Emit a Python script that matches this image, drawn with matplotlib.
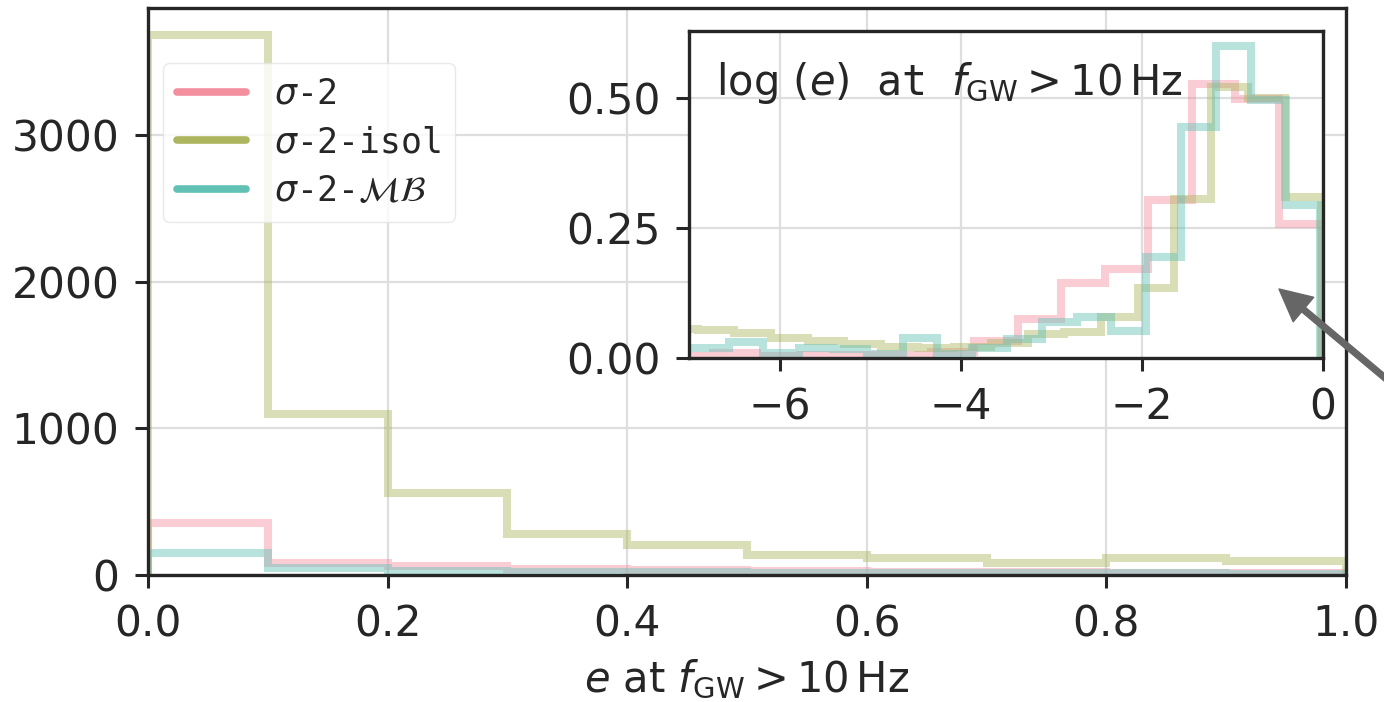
import matplotlib
matplotlib.use("Agg")
import matplotlib.pyplot as plt
from matplotlib.lines import Line2D

# ---------------- data ----------------
# main panel: counts of e at f_GW > 10 Hz
e_edges = [0.0, 0.1, 0.2, 0.3, 0.4, 0.5, 0.6, 0.7, 0.8, 0.9, 1.0]
counts_s2 = [354, 84, 61, 41, 34, 25, 20, 18, 15, 12]
counts_isol = [3680, 1100, 560, 279, 204, 134, 116, 82, 116, 95]
counts_mb = [150, 45, 30, 22, 18, 15, 14, 12, 12, 10]

# inset: density of log(e)
loge_edges_s2 = [-7.21, -6.73, -6.25, -5.77, -5.29, -4.81, -4.33, -3.85, -3.37,
                 -2.89, -2.41, -1.93, -1.45, -0.97, -0.49, -0.01]
dens_s2 = [0.004, 0.010, 0.003, 0.006, 0.006, 0.005, 0.012, 0.033, 0.075,
           0.144, 0.171, 0.304, 0.528, 0.498, 0.258]
loge_edges_isol = [-7.31, -6.905, -6.50, -6.095, -5.69, -5.285, -4.88, -4.475,
                   -4.07, -3.665, -3.26, -2.855, -2.45, -2.045, -1.64, -1.235,
                   -0.83, -0.425, -0.02]
dens_isol = [0.055, 0.054, 0.049, 0.039, 0.033, 0.027, 0.022, 0.020, 0.022,
             0.029, 0.047, 0.050, 0.078, 0.135, 0.305, 0.522, 0.500, 0.310]
loge_edges_mb = [-7.33, -6.95, -6.56, -6.18, -5.79, -5.41, -5.03, -4.64, -4.26,
                 -3.87, -3.49, -3.10, -2.72, -2.34, -1.95, -1.57, -1.18, -0.80,
                 -0.41, -0.03]
dens_mb = [0.020, 0.019, 0.031, 0.010, 0.020, 0.018, 0.008, 0.038, 0.008,
           0.019, 0.036, 0.070, 0.079, 0.051, 0.194, 0.444, 0.600, 0.496, 0.294]

labels = [r"$\sigma$-2", r"$\sigma$-2-isol", r"$\sigma$-2-$\mathcal{MB}$"]
colors = ["#f48fa0", "#adb65e", "#62c1b5"]

main_yticks = [0, 1000, 2000, 3000]
main_xticks = [0.0, 0.2, 0.4, 0.6, 0.8, 1.0]
inset_xticks = [-6, -4, -2, 0]
inset_yticks = [0.0, 0.25, 0.5]

# ---------------- style ----------------
dark = "#262626"
plt.rcParams.update({
    "font.family": "DejaVu Sans",
    "mathtext.fontset": "dejavusans",
    "axes.edgecolor": dark,
    "axes.linewidth": 2.4,
    "xtick.color": dark,
    "ytick.color": dark,
    "text.color": dark,
    "axes.labelcolor": dark,
    "xtick.major.size": 9.5,
    "ytick.major.size": 9.5,
    "xtick.major.width": 2.2,
    "ytick.major.width": 2.2,
    "xtick.major.pad": 11,
    "ytick.major.pad": 11,
    "xtick.labelsize": 30.5,
    "ytick.labelsize": 30.5,
    "grid.color": "#dedede",
    "grid.linewidth": 1.6,
})

W, H = 1384, 702
fig = plt.figure(figsize=(W / 100, H / 100), dpi=100)

ax = fig.add_axes([148 / W, 1 - 575 / H, (1346 - 148) / W, (575 - 8) / H])
lw = 5.8
alpha = 0.45
for vals, c in zip([counts_s2, counts_isol, counts_mb], colors):
    ax.stairs(vals, e_edges, color=c, lw=lw, alpha=alpha, fill=False)
ax.set_xlim(0, 1.0)
ax.set_ylim(0, 3865)
ax.set_xticks(main_xticks)
ax.set_xticklabels([f"{v:.1f}" for v in main_xticks])
ax.set_yticks(main_yticks)
ax.grid(True)
ax.set_axisbelow(True)
ax.set_xlabel(r"$e$ at $f_{\rm GW} > 10\,{\rm Hz}$", fontsize=30, labelpad=9)

handles = [Line2D([0], [0], color=c, lw=5.5, solid_capstyle="round") for c in colors]
leg = ax.legend(handles, labels, loc="upper left",
                bbox_to_anchor=(163 / W, 1 - 63 / H), bbox_transform=fig.transFigure,
                borderaxespad=0, prop={"family": "DejaVu Sans Mono", "size": 25},
                handlelength=2.0, frameon=True, framealpha=0.8,
                edgecolor="#e4e4e4", labelspacing=0.42)

# ---------------- inset ----------------
axi = fig.add_axes([689 / W, 1 - 358 / H, (1323 - 689) / W, (358 - 31) / H])
for vals, edges, c in zip([dens_s2, dens_isol, dens_mb],
                          [loge_edges_s2, loge_edges_isol, loge_edges_mb], colors):
    axi.stairs(vals, edges, color=c, lw=lw, alpha=alpha, fill=False)
axi.set_xlim(-7, 0)
axi.set_ylim(0, 0.629)
axi.set_xticks(inset_xticks)
axi.set_yticks(inset_yticks)
axi.set_yticklabels([f"{v:.2f}" for v in inset_yticks])
axi.grid(True)
axi.set_axisbelow(True)
axi.set_facecolor("white")
axi.text(0.043, 0.804, r"$\log\,(e)$ at $f_{\rm GW}>10\,{\rm Hz}$",
         transform=axi.transAxes, fontsize=30, family="DejaVu Sans Mono",
         va="baseline", ha="left")

ann = axi.annotate("", xy=(1279, H - 289), xycoords="figure pixels",
                   xytext=(1440, H - 424), textcoords="figure pixels",
                   arrowprops=dict(color="#666666", width=4.2, headwidth=23,
                                   headlength=23, shrink=0),
                   annotation_clip=False, zorder=10)
ann.arrow_patch.set_clip_on(False)

fig.savefig("out.png", dpi=100)
